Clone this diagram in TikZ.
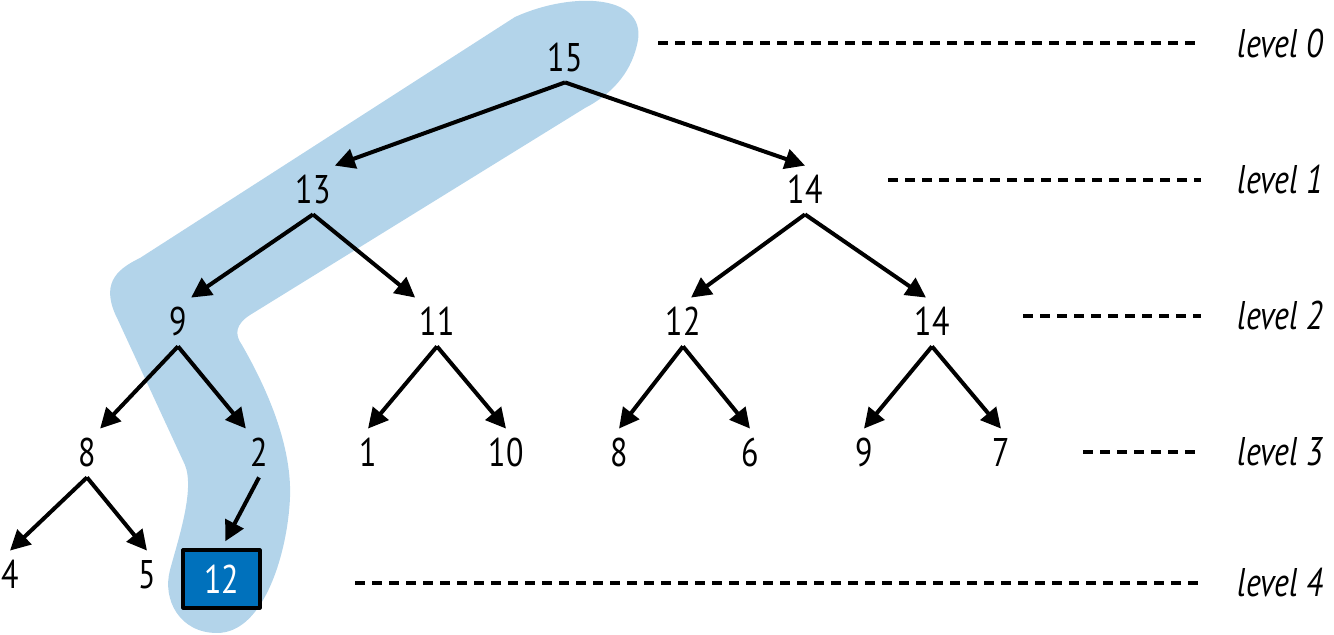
\documentclass[tikz,border=0pt]{standalone}
\usepackage{fontspec}
\setmainfont{PT Sans}[FakeStretch=0.8]
\usetikzlibrary{arrows.meta}
\definecolor{pathblue}{RGB}{179,212,234}
\definecolor{boxblue}{RGB}{0,113,188}
\tikzset{
	num/.style={inner xsep=2pt, inner ysep=5pt, text height=14pt, text depth=0pt},
	edge/.style={-{Triangle[length=10pt,width=10pt]}, line width=2pt},
	levelline/.style={line width=1.7pt, dash pattern=on 5pt off 3.5pt},
	levellabel/.style={anchor=west, inner sep=0pt, text height=13pt, text depth=0pt, font=\fontsize{20}{24}\selectfont\itshape},
	hitbox/.style={fill=boxblue, draw=black, line width=1.6pt, text=white, minimum width=38.5pt, minimum height=29pt, inner sep=0pt}
}
\begin{document}
\begin{tikzpicture}[x=0.5pt, y=-0.5pt, font=\fontsize{20}{24}\selectfont, line join=round]
		\useasboundingbox (0,0) rectangle (1334,635);
		% highlighted path
		\fill[pathblue] (140,258) -- (515,17) .. controls (575,-10) and (650,-5) .. (637,45) .. controls (630,75) and (610,95) .. (585,108) -- (250,315) .. controls (236,324) and (234,334) .. (242,345) .. controls (262,380) and (292,440) .. (290,497) .. controls (288,550) and (265,633) .. (217,633) .. controls (180,633) and (162,600) .. (170,570) .. controls (178,540) and (195,490) .. (185,465) -- (118,320) .. controls (100,285) and (115,270) .. (140,258) -- cycle;
		% tree
		\node[num] (n15) at (565,58) {15};
		\node[num] (n13) at (313,190) {13};
		\node[num] (n14a) at (805,190) {14};
		\node[num] (n9) at (178,322) {9};
		\node[num] (n11) at (437,322) {11};
		\node[num] (n12) at (683,322) {12};
		\node[num] (n14b) at (932,322) {14};
		\node[num] (n8a) at (87,453) {8};
		\node[num] (n2) at (259,453) {2};
		\node[num] (n1) at (368,453) {1};
		\node[num] (n10) at (506,453) {10};
		\node[num] (n8b) at (619,453) {8};
		\node[num] (n6) at (750,453) {6};
		\node[num] (n9b) at (864,453) {9};
		\node[num] (n7) at (1001,453) {7};
		\node[num] (n4) at (10,575) {4};
		\node[num] (n5) at (147,575) {5};
		\node[hitbox] (n12b) at (221.5,579) {12};
		\draw[edge] (n15.south) -- (n13.north east);
		\draw[edge] (n15.south) -- (n14a.north);
		\draw[edge] (n13.south) -- (n9.north east);
		\draw[edge] (n13.south) -- (n11.north west);
		\draw[edge] (n14a.south) -- ([xshift=4pt]n12.north);
		\draw[edge] (n14a.south) -- ([xshift=-3pt]n14b.north);
		\draw[edge] (n9.south) -- (n8a.north east);
		\draw[edge] (n9.south) -- (n2.north west);
		\draw[edge] (n11.south) -- (n1.north);
		\draw[edge] (n11.south) -- (n10.north);
		\draw[edge] (n12.south) -- (n8b.north);
		\draw[edge] (n12.south) -- (n6.north);
		\draw[edge] (n14b.south) -- (n9b.north);
		\draw[edge] (n14b.south) -- (n7.north);
		\draw[edge] (n8a.south) -- (n4.north);
		\draw[edge] (n8a.south) -- (n5.north);
		\draw[edge, shorten >=4pt] (n2.south) -- (n12b.north);
		% levels
		\node[levellabel] (lv0) at (1237,45) {level 0};
		\node[levellabel] (lv1) at (1237,181) {level 1};
		\node[levellabel] (lv2) at (1237,317) {level 2};
		\node[levellabel] (lv3) at (1237,453) {level 3};
		\node[levellabel] (lv4) at (1237,584) {level 4};
		\coordinate (d0) at (658,43);
		\coordinate (d1) at (888,180);
		\coordinate (d2) at (1023,316);
		\coordinate (d3) at (1083,452);
		\coordinate (d4) at (355,583);
		\foreach \i in {0,...,4}
			\draw[levelline] (d\i) -- (d\i -| lv\i.west) [shorten >=18pt];
\end{tikzpicture}
\end{document}
